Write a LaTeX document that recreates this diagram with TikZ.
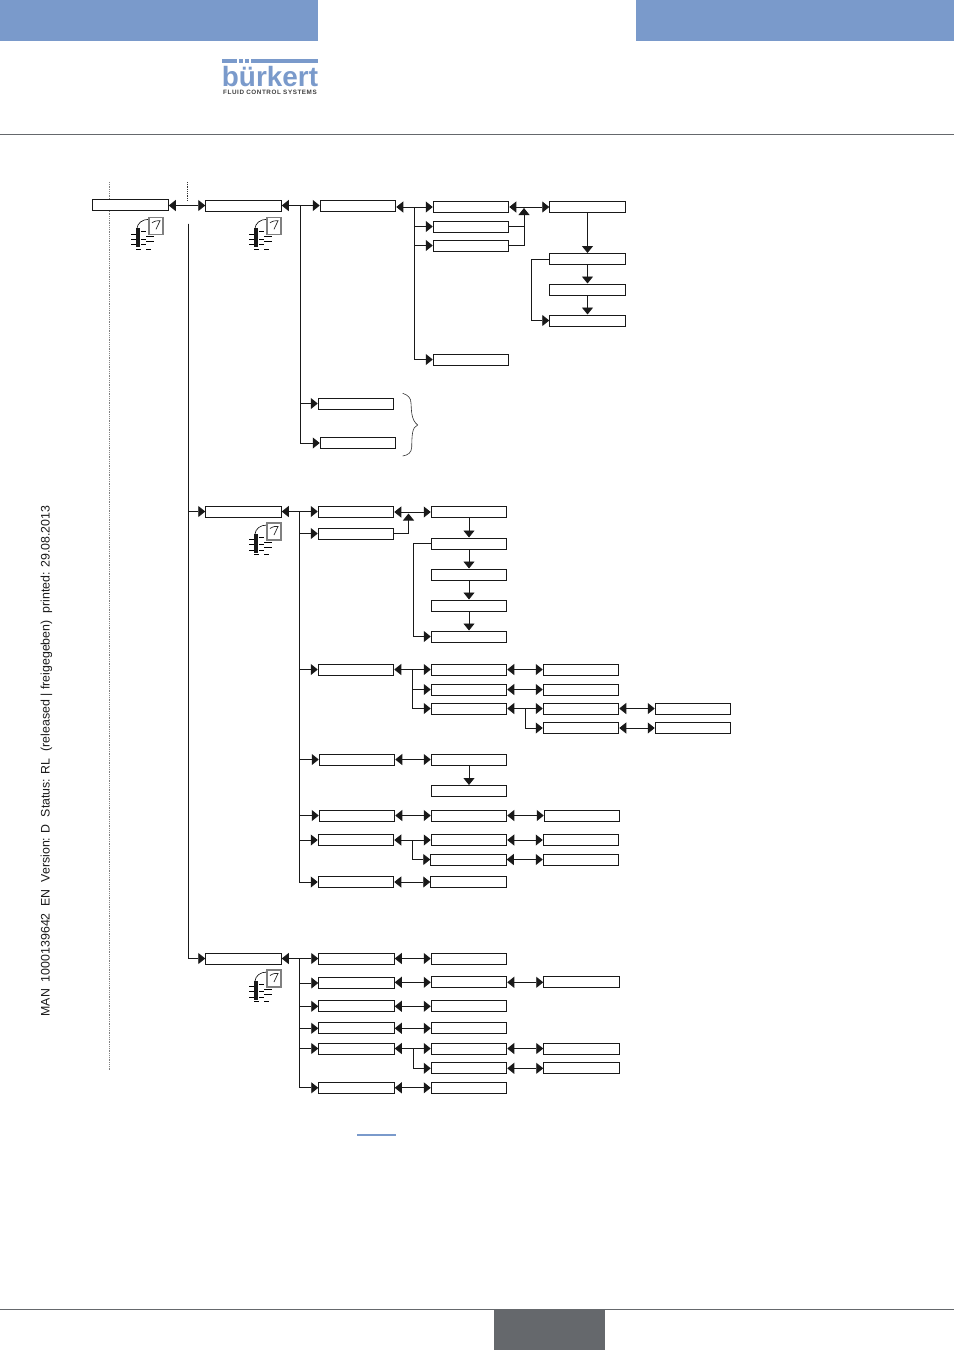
\documentclass[tikz,border=0pt]{standalone}
\usepackage{fontspec}
\setmainfont{Liberation Sans}
\usetikzlibrary{arrows.meta}
\definecolor{headblue}{HTML}{7A9ACB}
\definecolor{footgray}{HTML}{65686C}
\tikzset{
	menubox/.style={draw=black!90, fill=white, line width=1pt, minimum width=75.5pt, minimum height=11pt, inner sep=0pt},
	wire/.style={draw=black!90, line width=0.9pt},
	oneway/.style={wire, -{Triangle[length=7pt, width=11pt]}},
	twoway/.style={wire, {Triangle[length=7pt, width=11pt]}-{Triangle[length=7pt, width=11pt]}},
	rule/.style={draw=footgray, line width=0.8pt}
}
\def\sensoricon(#1){\begin{scope}[shift={(#1)}]
	\fill[black!90] (-2, 0) rectangle (2, 19);
	\draw[line width=0.6pt] (-1, 0) .. controls (-0.5, -5) and (4, -9) .. (11, -9);
	\draw[fill=white, draw=black!50, line width=1.1pt] (11, -11) rectangle (25, 6);
	\draw[line width=0.7pt, black!85] (14, -5.5) .. controls (17, -7.5) and (20, -8) .. (22, -7.5) -- (18, 1);
	\draw[line width=0.7pt] (-7, 5.7) -- (-2, 5.7) (-7, 10.7) -- (-2, 10.7) (-7, 16) -- (-2, 16);
	\draw[line width=0.7pt] (3, 3.3) -- (8, 3.3) (3, 10.7) -- (8, 10.7) (3, 16) -- (8, 16);
	\draw[line width=0.7pt] (8, 8.3) -- (16, 8.3) (8, 13.3) -- (16, 13.3);
	\draw[line width=0.7pt] (-2, 20.7) -- (3, 20.7) (8, 20.7) -- (13, 20.7);
\end{scope}}

\begin{document}
\begin{tikzpicture}[x=1pt, y=-1pt]
		\useasboundingbox (0, 0) rectangle (954, 1350);
		%%%%% page frame %%%%%
		\fill[headblue] (0, 0) rectangle (318, 41);
		\fill[headblue] (636, 0) rectangle (954, 41);
		\draw[rule] (0, 134.5) -- (954, 134.5);
		\draw[rule] (0, 1309.5) -- (954, 1309.5);
		\fill[footgray] (494, 1309.5) rectangle (605, 1350);
		\fill[headblue] (357, 1134.2) rectangle (396, 1135.8);
		
		\fill[headblue] (222, 59) rectangle (318, 62.7);
		\fill[white] (237, 59) rectangle (238.5, 62.7);
		\fill[white] (243, 59) rectangle (245, 62.7);
		\fill[white] (249.3, 59) rectangle (250.6, 62.7);
		\node[anchor=base, inner sep=0pt, text=headblue, font=\fontsize{27.9}{28}\selectfont\bfseries] (logo) at (270, 86) {bürkert};
		\node[inner sep=0pt, text=black!75, font=\fontsize{6.3}{7}\selectfont\bfseries\addfontfeature{LetterSpace=9}] (slogan) at (270, 92) {FLUID CONTROL SYSTEMS};
		
		\node[rotate=90, inner sep=0pt, text=black!90, font=\fontsize{12.37}{13}\selectfont] (sideline) at (46.5, 761) {MAN\ \ 1000139642\ \ EN\ \ Version: D\ \ Status: RL\ \ (released | freigegeben)\ \ printed: 29.08.2013};
		
		\draw[black!50, line width=0.8pt, densely dotted] (109, 182) -- (109, 1070);
		\draw[black!80, line width=0.8pt, densely dotted] (187, 182) -- (187, 201);
		
		%%%%% first level %%%%%
		\node[menubox] (b0) at (130.5, 205) {};
		\node[menubox] (b1) at (243.5, 205.5) {};
		\node[menubox] (b2) at (358, 205.5) {};
		\node[menubox] (b3) at (471, 207) {};
		\node[menubox] (b4) at (471, 226.5) {};
		\node[menubox] (b5) at (471, 245.5) {};
		\node[menubox] (b6) at (471, 359.5) {};
		\node[menubox] (c0) at (587.5, 206.5) {};
		\node[menubox] (c1) at (587.5, 259) {};
		\node[menubox] (c2) at (587.5, 289.5) {};
		\node[menubox] (c3) at (587.5, 320.5) {};
		\node[menubox] (d1) at (356, 403.5) {};
		\node[menubox] (d2) at (358, 443) {};
		
		\sensoricon(138, 228.3)
		\sensoricon(256, 228.3)
		
		\draw[twoway] (b0.east |- b1.west) -- (b1.west);
		\draw[twoway] (b1.east) -- (b2.west);
		\draw[twoway] (b2.east |- b3.west) -- (b3.west);
		\draw[twoway] (b3.east) -- (b3.east -| c0.west);
		
		\coordinate (busa) at (300, 205.5);
		\draw[oneway] (busa) |- (d1.west);
		\draw[oneway] (busa) |- (d2.west);
		
		\coordinate (busb) at (414.5, 207);
		\draw[oneway] (busb) |- (b4.west);
		\draw[oneway] (busb) |- (b5.west);
		\draw[oneway] (busb) |- (b6.west);
		
		\coordinate (upa) at (524, 208);
		\draw[oneway] (b5.east) -| (upa);
		\draw[wire] (b4.east) -- (b4.east -| upa);
		
		\draw[oneway] (c0.south) -- (c1.north);
		\draw[oneway] (c1.south) -- (c2.north);
		\draw[oneway] (c2.south) -- (c3.north);
		\coordinate (loopa) at (531.5, 259);
		\draw[oneway] (c1.west) -- (loopa) |- (c3.west);
		
		\draw[black!80, line width=0.6pt] (402.7, 393.3) .. controls (408, 395) and (411, 398) .. (411, 403) .. controls (411.5, 410) and (411, 420) .. (417.7, 425) .. controls (412, 427) and (412, 435) .. (411.7, 447) .. controls (411.5, 453) and (408, 455) .. (402.7, 456);
		
		%%%%% second level %%%%%
		\node[menubox] (e0) at (243.5, 511.5) {};
		\node[menubox] (e1) at (356, 512) {};
		\node[menubox] (e2) at (356, 533.5) {};
		\node[menubox] (f0) at (469, 512) {};
		\node[menubox] (f1) at (469, 543.5) {};
		\node[menubox] (f2) at (469, 574.5) {};
		\node[menubox] (f3) at (469, 605.5) {};
		\node[menubox] (f4) at (469, 636.5) {};
		
		\sensoricon(256, 534)
		
		\draw[twoway] (e0.east) -- (e0.east -| e1.west);
		\draw[twoway] (e1.east) -- (f0.west);
		\coordinate (upb) at (408.5, 513.5);
		\draw[oneway] (e2.east) -| (upb);
		\draw[oneway] (f0.south) -- (f1.north);
		\draw[oneway] (f1.south) -- (f2.north);
		\draw[oneway] (f2.south) -- (f3.north);
		\draw[oneway] (f3.south) -- (f4.north);
		\coordinate (loopb) at (413.3, 543.5);
		\draw[oneway] (f1.west) -- (loopb) |- (f4.west);
		
		\node[menubox] (g0) at (356, 669.5) {};
		\node[menubox] (h1) at (469, 669.5) {};
		\node[menubox] (h2) at (469, 689.5) {};
		\node[menubox] (h3) at (469, 708.5) {};
		\node[menubox] (i1) at (581, 669.5) {};
		\node[menubox] (i2) at (581, 689.5) {};
		\node[menubox] (i3) at (581, 708.5) {};
		\node[menubox] (i4) at (581, 728) {};
		\node[menubox] (j1) at (693, 708.5) {};
		\node[menubox] (j2) at (693, 728) {};
		
		\node[menubox] (k0) at (357, 759.5) {};
		\node[menubox] (k1) at (469, 759.5) {};
		\node[menubox] (k2) at (469, 791) {};
		\node[menubox] (l0) at (357, 815.5) {};
		\node[menubox] (l1) at (469, 815.5) {};
		\node[menubox] (l2) at (582, 815.5) {};
		\node[menubox] (m0) at (356, 840) {};
		\node[menubox] (m1) at (469, 840) {};
		\node[menubox] (m2) at (581, 840) {};
		\node[menubox] (n1) at (468.5, 859.5) {};
		\node[menubox] (n2) at (581, 859.5) {};
		\node[menubox] (o0) at (356, 882) {};
		\node[menubox] (o1) at (468.5, 882) {};
		
		\coordinate (busc) at (299.7, 511.7);
		\draw[oneway] (busc) |- (e2.west);
		\draw[oneway] (busc) |- (g0.west);
		\draw[oneway] (busc) |- (k0.west);
		\draw[oneway] (busc) |- (l0.west);
		\draw[oneway] (busc) |- (m0.west);
		\draw[oneway] (busc) |- (o0.west);
		
		\draw[twoway] (g0.east) -- (h1.west);
		\coordinate (busd) at (412.3, 669.5);
		\draw[oneway] (busd) |- (h2.west);
		\draw[oneway] (busd) |- (h3.west);
		\draw[twoway] (h1.east) -- (i1.west);
		\draw[twoway] (h2.east) -- (i2.west);
		\draw[twoway] (h3.east) -- (i3.west);
		\coordinate (buse) at (525.7, 708.5);
		\draw[oneway] (buse) |- (i4.west);
		\draw[twoway] (i3.east) -- (j1.west);
		\draw[twoway] (i4.east) -- (j2.west);
		
		\draw[twoway] (k0.east) -- (k1.west);
		\draw[oneway] (k1.south) -- (k2.north);
		\draw[twoway] (l0.east) -- (l1.west);
		\draw[twoway] (l1.east) -- (l2.west);
		\draw[twoway] (m0.east) -- (m1.west);
		\draw[twoway] (m1.east) -- (m2.west);
		\coordinate (busf) at (412.3, 840);
		\draw[oneway] (busf) |- (n1.west);
		\draw[twoway] (n1.east) -- (n2.west);
		\draw[twoway] (o0.east) -- (o1.west);
		
		%%%%% third level %%%%%
		\node[menubox] (p0) at (243.5, 958.5) {};
		\node[menubox] (q1) at (356.5, 958.5) {};
		\node[menubox] (r1) at (469, 958.5) {};
		\node[menubox] (q2) at (356.5, 983) {};
		\node[menubox] (r2) at (469, 982.3) {};
		\node[menubox] (s2) at (581.5, 982.3) {};
		\node[menubox] (q3) at (356.5, 1006.3) {};
		\node[menubox] (r3) at (469, 1006.3) {};
		\node[menubox] (q4) at (356.5, 1028.3) {};
		\node[menubox] (r4) at (469, 1028.3) {};
		\node[menubox] (q5) at (356.5, 1048.5) {};
		\node[menubox] (r5) at (469, 1048.5) {};
		\node[menubox] (s5) at (581.5, 1048.5) {};
		\node[menubox] (r6) at (469, 1068.3) {};
		\node[menubox] (s6) at (581.5, 1068.3) {};
		\node[menubox] (q7) at (356.5, 1087.8) {};
		\node[menubox] (r7) at (469, 1087.8) {};
		
		\sensoricon(256, 981)
		
		\coordinate (main) at (188.3, 223.5);
		\draw[oneway] (main) |- (e0.west);
		\draw[oneway] (main) |- (p0.west);
		
		\draw[twoway] (p0.east) -- (q1.west);
		\coordinate (busg) at (299.3, 958.5);
		\draw[oneway] (busg) |- (q2.west);
		\draw[oneway] (busg) |- (q3.west);
		\draw[oneway] (busg) |- (q4.west);
		\draw[oneway] (busg) |- (q5.west);
		\draw[oneway] (busg) |- (q7.west);
		
		\draw[twoway] (q1.east) -- (r1.west);
		\draw[twoway] (q2.east |- r2.west) -- (r2.west);
		\draw[twoway] (r2.east) -- (s2.west);
		\draw[twoway] (q3.east) -- (r3.west);
		\draw[twoway] (q4.east) -- (r4.west);
		\draw[twoway] (q5.east) -- (r5.west);
		\draw[twoway] (r5.east) -- (s5.west);
		\coordinate (bush) at (413.3, 1048.5);
		\draw[oneway] (bush) |- (r6.west);
		\draw[twoway] (r6.east) -- (s6.west);
		\draw[twoway] (q7.east) -- (r7.west);
	\end{tikzpicture}
\end{document}
